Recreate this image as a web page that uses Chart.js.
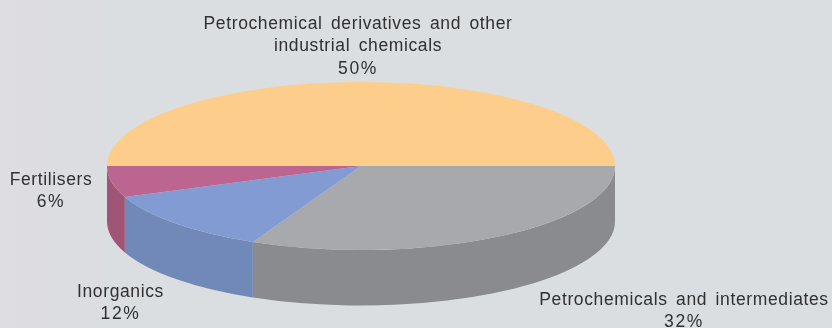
<!DOCTYPE html>
<html>
<head>
<meta charset="utf-8">
<style>
  html, body { margin: 0; padding: 0; background: #dbdee1; }
  #wrap { position: relative; width: 832px; height: 328px; overflow: hidden; background: linear-gradient(90deg, #dedde1 0, #dcdde1 70px, #dbdee1 110px); }
</style>
</head>
<body>
<div id="wrap"><canvas id="chart" width="832" height="328"></canvas></div>
<script src="https://cdn.jsdelivr.net/npm/chart.js@4"></script>
<script>
const categories = ["Petrochemical derivatives and other industrial chemicals", "Petrochemicals and intermediates", "Inorganics", "Fertilisers"];
const shares = [50, 32, 12, 6];
const topColors = ["#fdcd8b", "#a7a9ac", "#829cd3", "#bc6590"];
const sideColors = ["#d9ae75", "#8a8b8e", "#7089b8", "#a05476"];
const labelLines = [
  ["Petrochemical derivatives and other", "industrial chemicals", "50%"],
  ["Petrochemicals and intermediates", "32%"],
  ["Inorganics", "12%"],
  ["Fertilisers", "6%"]
];
// centre x and first baseline of each label
const labelSpots = [[358, 29], [684, 305], [120.5, 297], [51, 185]];

const squash = 84 / 254;
const depth = 55.5;

const pie3d = {
  id: "pie3d",
  beforeDatasetsDraw(chart) {
    const ctx = chart.ctx;
    const arcs = chart.getDatasetMeta(0).data;
    const cy = arcs[0].y;

    ctx.save();
    ctx.translate(0, cy);
    ctx.scale(1, squash);
    ctx.translate(0, -cy);

    // rim first, only the front half of the pie shows it
    arcs.forEach((arc, i) => {
      const start = Math.max(arc.startAngle, 0);
      const end = Math.min(arc.endAngle, Math.PI);
      if (end <= start) return;
      ctx.beginPath();
      ctx.arc(arc.x, arc.y, arc.outerRadius, start, end);
      ctx.arc(arc.x, arc.y + depth / squash, arc.outerRadius, end, start, true);
      ctx.closePath();
      ctx.fillStyle = sideColors[i];
      ctx.fill();
    });

    arcs.forEach(arc => arc.draw(ctx));
    ctx.restore();

    return false;
  },
  afterDraw(chart) {
    const ctx = chart.ctx;
    ctx.save();
    ctx.font = '17.5px "Liberation Sans"';
    ctx.wordSpacing = "3px";
    ctx.fillStyle = "#303031";
    ctx.textAlign = "center";
    ctx.textBaseline = "alphabetic";
    labelLines.forEach((lines, i) => {
      lines.forEach((line, j) => {
        // the percentages are tracked wider than the names
        ctx.letterSpacing = line.endsWith("%") ? "1.6px" : "0.62px";
        ctx.fillText(line, labelSpots[i][0], labelSpots[i][1] + j * 22.3);
      });
    });
    ctx.restore();
  }
};

new Chart(document.getElementById("chart"), {
  type: "pie",
  data: {
    labels: categories,
    datasets: [{
      data: shares,
      backgroundColor: topColors,
      borderWidth: 0,
      radius: 254
    }]
  },
  options: {
    responsive: false,
    animation: false,
    rotation: -90,
    layout: { padding: { top: 4, right: 110 } },
    plugins: {
      legend: { display: false },
      tooltip: { enabled: false }
    }
  },
  plugins: [pie3d]
});
</script>
</body>
</html>
